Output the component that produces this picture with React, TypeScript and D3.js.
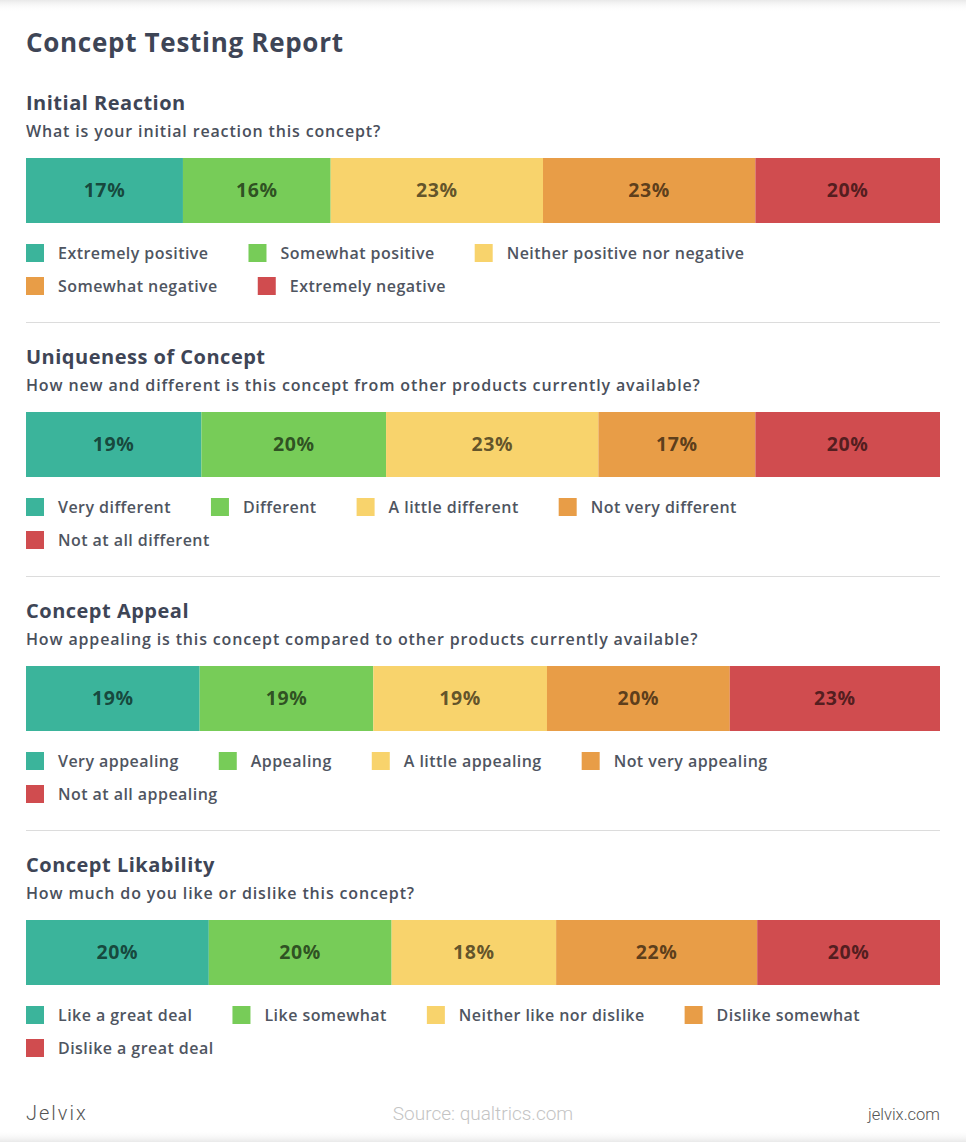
import React from "react";
import * as d3 from "d3";

const reportTitle = "Concept Testing Report";
const sectionTitles = ["Initial Reaction", "Uniqueness of Concept", "Concept Appeal", "Concept Likability"];
const sectionQuestions = [
  "What is your initial reaction this concept?",
  "How new and different is this concept from other products currently available?",
  "How appealing is this concept compared to other products currently available?",
  "How much do you like or dislike this concept?",
];

const initialReactionCategories = ["Extremely positive", "Somewhat positive", "Neither positive nor negative", "Somewhat negative", "Extremely negative"];
const initialReactionValues = [17, 16, 23, 23, 20];

const uniquenessCategories = ["Very different", "Different", "A little different", "Not very different", "Not at all different"];
const uniquenessValues = [19, 20, 23, 17, 20];

const appealCategories = ["Very appealing", "Appealing", "A little appealing", "Not very appealing", "Not at all appealing"];
const appealValues = [19, 19, 19, 20, 23];

const likabilityCategories = ["Like a great deal", "Like somewhat", "Neither like nor dislike", "Dislike somewhat", "Dislike a great deal"];
const likabilityValues = [20, 20, 18, 22, 20];

const segmentColors = ["#3bb49b", "#77cc58", "#f8d36c", "#e89d47", "#d04c4f"];

const footerLeft = "Jelvix";
const footerSource = "Source: qualtrics.com";
const footerRight = "jelvix.com";

const sections = [
  { cats: initialReactionCategories, vals: initialReactionValues },
  { cats: uniquenessCategories, vals: uniquenessValues },
  { cats: appealCategories, vals: appealValues },
  { cats: likabilityCategories, vals: likabilityValues },
];

const W = 966;
const H = 1142;
const LEFT = 26;
const RIGHT = 940;
const SECTION_STEP = 254;
const FONT = '"Open Sans", "DejaVu Sans", sans-serif';
const FOOT_FONT = '"Liberation Sans Narrow", Roboto, sans-serif';
const LEGEND_FONT_SIZE = 16;
const LEGEND_WEIGHT = 600;
const LEGEND_LS = 0.45;

let measureCtx: CanvasRenderingContext2D | null = null;
function textWidth(t: string, font: string, ls: number) {
  if (!measureCtx) {
    const c = document.createElement("canvas");
    measureCtx = c.getContext("2d");
  }
  if (!measureCtx) return t.length * 8.5;
  measureCtx.font = font;
  return measureCtx.measureText(t).width + t.length * ls;
}

function layoutLegend(cats: string[]) {
  const font = `${LEGEND_WEIGHT} ${LEGEND_FONT_SIZE}px "Open Sans"`;
  const items: { x: number; row: number; label: string; i: number }[] = [];
  let x = LEFT;
  let row = 0;
  cats.forEach((c, i) => {
    const w = 18 + 14 + textWidth(c, font, LEGEND_LS);
    if (x + w > RIGHT && x > LEFT) {
      row += 1;
      x = LEFT;
    }
    items.push({ x, row, label: c, i });
    x += w + 40;
  });
  return items;
}

function Section({ idx }: { idx: number }) {
  const { cats, vals } = sections[idx];
  const y0 = idx * SECTION_STEP;
  const x = d3.scaleLinear().domain([0, d3.sum(vals)]).range([LEFT, RIGHT]);
  const starts = [0, ...Array.from(d3.cumsum(vals))];
  const barTop = 158;
  const barH = 65;
  const legend = layoutLegend(cats);
  return (
    <g transform={`translate(0,${y0})`}>
      <text x={LEFT} y={110} fontFamily={FONT} fontWeight={700} fontSize={20} letterSpacing={0.5} fill="#3e4556">
        {sectionTitles[idx]}
      </text>
      <text x={LEFT} y={137} fontFamily={FONT} fontWeight={600} fontSize={16} letterSpacing={0.85} fill="#4a505c">
        {sectionQuestions[idx]}
      </text>
      {vals.map((v, i) => {
        const xa = x(starts[i]);
        const xb = x(starts[i] + v);
        return (
          <g key={i}>
            <rect x={xa} y={barTop} width={xb - xa} height={barH} fill={segmentColors[i]} />
            <text
              x={(xa + xb) / 2}
              y={barTop + barH / 2}
              dy="0.34em"
              textAnchor="middle"
              fontFamily={FONT}
              fontWeight={700}
              fontSize={19.5}
              letterSpacing={0.6}
              fill="#000"
              fillOpacity={0.62}
            >
              {v}%
            </text>
          </g>
        );
      })}
      {legend.map((it) => (
        <g key={it.i} transform={`translate(${it.x},${244 + it.row * 33})`}>
          <rect width={18} height={18} fill={segmentColors[it.i]} />
          <text x={32} y={9} dy="0.36em" fontFamily={FONT} fontWeight={LEGEND_WEIGHT} fontSize={LEGEND_FONT_SIZE} letterSpacing={LEGEND_LS} fill="#4f5561">
            {it.label}
          </text>
        </g>
      ))}
      {idx < sections.length - 1 && (
        <line x1={LEFT} x2={RIGHT} y1={322.5} y2={322.5} stroke="#dcdcdc" strokeWidth={1} />
      )}
    </g>
  );
}

export default function App() {
  return (
    <svg width={W} height={H} style={{ position: "absolute", left: 0, top: 0, background: "#fff" }}>
      <defs>
        <linearGradient id="topShade" x1="0" y1="0" x2="0" y2="1">
          <stop offset="0" stopColor="#e9e9e9" />
          <stop offset="1" stopColor="#ffffff" stopOpacity={0} />
        </linearGradient>
        <linearGradient id="botShade" x1="0" y1="1" x2="0" y2="0">
          <stop offset="0" stopColor="#e9e9e9" />
          <stop offset="1" stopColor="#ffffff" stopOpacity={0} />
        </linearGradient>
      </defs>
      <rect width={W} height={H} fill="#fff" />
      <rect width={W} height={12} fill="url(#topShade)" />
      <rect y={H - 12} width={W} height={12} fill="url(#botShade)" />
      <text x={LEFT} y={52} fontFamily={FONT} fontWeight={700} fontSize={26} letterSpacing={0.7} fill="#3e4556">
        {reportTitle}
      </text>
      {sections.map((_, i) => (
        <Section key={i} idx={i} />
      ))}
      <text x={LEFT} y={1120} fontFamily={FOOT_FONT} fontWeight={300} fontSize={20} fill="#555" letterSpacing={2}>
        {footerLeft}
      </text>
      <text x={483} y={1120} textAnchor="middle" fontFamily={FOOT_FONT} fontWeight={300} fontSize={19} fill="#c4c4c4">
        {footerSource}
      </text>
      <text x={RIGHT} y={1120} textAnchor="end" fontFamily={FOOT_FONT} fontWeight={300} fontSize={16.5} fill="#555">
        {footerRight}
      </text>
    </svg>
  );
}
